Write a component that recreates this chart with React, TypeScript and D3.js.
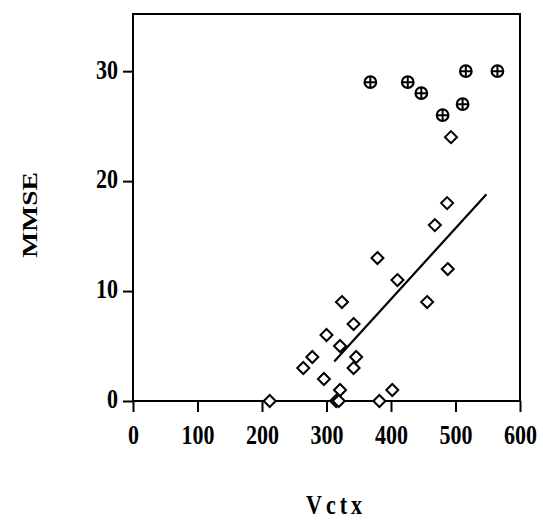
import React, { useEffect, useRef } from 'react';
import * as d3 from 'd3';

// diamonds
const diamondX = [212, 315, 319, 382, 321, 402, 296, 264, 342, 278, 346, 321, 300, 342, 324, 379, 410, 456, 488, 468, 487, 493];
const diamondY = [0, 0, 0, 0, 1, 1, 2, 3, 3, 4, 4, 5, 6, 7, 9, 13, 11, 9, 12, 16, 18, 24];

// crossed circles
const circleX = [368, 426, 447, 480, 511, 516, 565];
const circleY = [29, 29, 28, 26, 27, 30, 30];

// fitted line (diamonds)
const fitX = [312, 548];
const fitY = [3.6, 18.8];

const xTicks = [0, 100, 200, 300, 400, 500, 600];
const yTicks = [0, 10, 20, 30];

const W = 543, H = 521;
const FONT = '"Liberation Serif", "Times New Roman", serif';
const STRETCH = 1.25; // the scan's text is taller than wide

export default function App() {
    const ref = useRef<SVGSVGElement>(null);

    useEffect(() => {
        const svg = d3.select(ref.current);
        svg.selectAll('*').remove();

        const left = 133, right = 520, top = 14, bottom = 401;

        const x = d3.scaleLinear().domain([0, 600]).range([left, right]);
        const y = d3.scaleLinear().domain([0, 35.2]).range([bottom, top]);

        // frame
        svg.append('rect')
            .attr('x', left).attr('y', top)
            .attr('width', right - left).attr('height', bottom - top)
            .attr('fill', 'none').attr('stroke', '#000').attr('stroke-width', 2);

        // x axis
        const gx = svg.append('g')
            .attr('transform', `translate(0,${bottom})`)
            .call(d3.axisBottom(x).tickValues(xTicks).tickSize(11).tickSizeOuter(0));
        gx.select('.domain').remove();
        gx.selectAll('.tick text')
            .attr('y', 43 / STRETCH)
            .attr('dy', 0)
            .attr('transform', `scale(1,${STRETCH})`);

        // y axis
        const gy = svg.append('g')
            .attr('transform', `translate(${left},0)`)
            .call(d3.axisLeft(y).tickValues(yTicks).tickSize(10).tickSizeOuter(0).tickPadding(5));
        gy.select('.domain').remove();
        gy.selectAll('.tick text')
            .attr('dy', '0.25em')
            .attr('transform', `scale(1,${STRETCH})`);

        svg.selectAll('.tick line').attr('stroke', '#000').attr('stroke-width', 2);
        svg.selectAll('.tick text')
            .attr('fill', '#000')
            .style('font-family', FONT)
            .style('font-weight', 'bold')
            .style('font-size', '22px');

        // regression line
        svg.append('line')
            .attr('x1', x(fitX[0])).attr('y1', y(fitY[0]))
            .attr('x2', x(fitX[1])).attr('y2', y(fitY[1]))
            .attr('stroke', '#000').attr('stroke-width', 2.2);

        // diamonds
        const d = 6;
        svg.append('g').selectAll('path')
            .data(diamondX.map((v, i) => [v, diamondY[i]]))
            .enter()
            .append('path')
            .attr('d', p => {
                const cx = x(p[0]), cy = y(p[1]);
                return `M${cx},${cy - d}L${cx + d},${cy}L${cx},${cy + d}L${cx - d},${cy}Z`;
            })
            .attr('fill', 'white')
            .attr('stroke', '#000')
            .attr('stroke-width', 2);

        // crossed circles
        const r = 5.8;
        const cg = svg.append('g').selectAll('g')
            .data(circleX.map((v, i) => [v, circleY[i]]))
            .enter()
            .append('g')
            .attr('transform', p => `translate(${x(p[0])},${y(p[1])})`);
        cg.append('circle').attr('r', r)
            .attr('fill', 'white').attr('stroke', '#000').attr('stroke-width', 2.2);
        cg.append('path')
            .attr('d', `M${-r},0H${r}M0,${-r}V${r}`)
            .attr('stroke', '#000').attr('stroke-width', 2);

        // axis titles
        svg.append('text')
            .attr('transform', `translate(336,514) scale(1,${STRETCH})`)
            .attr('text-anchor', 'middle')
            .style('font-family', FONT).style('font-weight', 'bold')
            .style('font-size', '22px').style('letter-spacing', '4px')
            .text('Vctx');

        svg.append('text')
            .attr('transform', `translate(37,215) scale(1,${STRETCH}) rotate(-90)`)
            .attr('text-anchor', 'middle')
            .style('font-family', FONT).style('font-weight', 'bold')
            .style('font-size', '22px')
            .text('MMSE');
    }, []);

    return (
        <svg ref={ref} width={W} height={H}
             style={{ position: 'absolute', left: 0, top: 0, background: 'white' }} />
    );
}
